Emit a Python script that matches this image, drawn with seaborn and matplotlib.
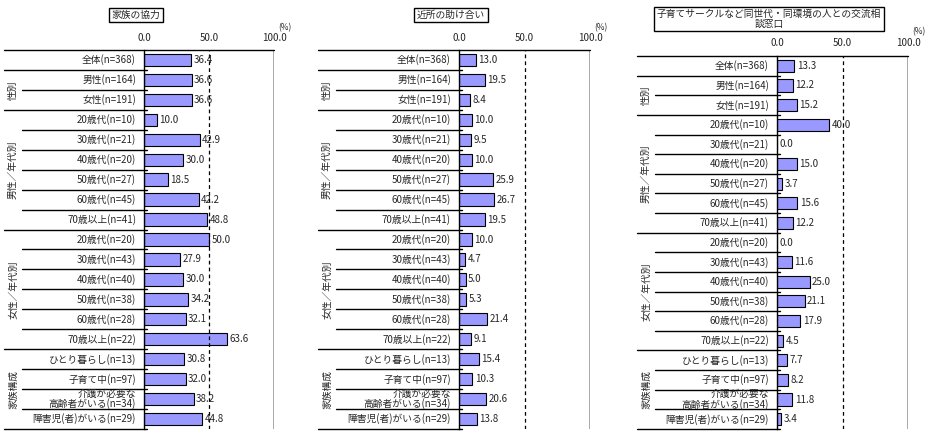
import matplotlib
matplotlib.use("Agg")
import matplotlib.pyplot as plt
from matplotlib.lines import Line2D
import seaborn as sns
import pandas as pd

categories = ["全体(n=368)", "男性(n=164)", "女性(n=191)",
              "20歳代(n=10)", "30歳代(n=21)", "40歳代(n=20)", "50歳代(n=27)", "60歳代(n=45)", "70歳以上(n=41)",
              "20歳代(n=20)", "30歳代(n=43)", "40歳代(n=40)", "50歳代(n=38)", "60歳代(n=28)", "70歳以上(n=22)",
              "ひとり暮らし(n=13)", "子育て中(n=97)", "介護が必要な\n高齢者がいる(n=34)", "障害児(者)がいる(n=29)"]
groups = [("性別", 1, 2), ("男性／年代別", 3, 8), ("女性／年代別", 9, 14), ("家族構成", 15, 18)]
titles = ["家族の協力", "近所の助け合い", "子育てサークルなど同世代・同環境の人との交流相\n談窓口"]
family = [36.4, 36.6, 36.6, 10.0, 42.9, 30.0, 18.5, 42.2, 48.8, 50.0, 27.9, 30.0, 34.2, 32.1, 63.6, 30.8, 32.0, 38.2, 44.8]
neighbor = [13.0, 19.5, 8.4, 10.0, 9.5, 10.0, 25.9, 26.7, 19.5, 10.0, 4.7, 5.0, 5.3, 21.4, 9.1, 15.4, 10.3, 20.6, 13.8]
circle = [13.3, 12.2, 15.2, 40.0, 0.0, 15.0, 3.7, 15.6, 12.2, 0.0, 11.6, 25.0, 21.1, 17.9, 4.5, 7.7, 8.2, 11.8, 3.4]
tick_vals = [0, 50, 100]
tick_labels = ["0.0", "50.0", "100.0"]

sns.set_theme(style="white")
plt.rcParams['font.family'] = ['Noto Sans CJK JP', 'DejaVu Sans']

W, H = 926, 438
fig = plt.figure(figsize=(9.26, 4.38), dpi=100)

def fx(x):
    return x / W

def fy(y):
    return 1 - y / H

panels = [
    dict(data=family, left=4, x0=144, x1=274, top=50, bottom=429, ticky=38, pcty=28, title_xy=(136, 15)),
    dict(data=neighbor, left=318, x0=459, x1=590, top=50, bottom=429, ticky=38, pcty=28, title_xy=(451, 15)),
    dict(data=circle, left=637, x0=777, x1=908, top=56, bottom=429, ticky=43, pcty=32, title_xy=(769, 19)),
]
n = len(categories)
fs = 7

for i, p in enumerate(panels):
    ax = fig.add_axes([fx(p["x0"]), fy(p["bottom"]), fx(p["x1"] - p["x0"]), (p["bottom"] - p["top"]) / H])
    df = pd.DataFrame({"row": list(range(n)), "value": p["data"]})
    sns.barplot(data=df, x="value", y="row", orient="h", color="#9999FF", saturation=1,
                edgecolor="black", linewidth=0.8, width=0.62, ax=ax)
    ax.set_xlim(0, 100)
    ax.set_ylim(n - 0.5, -0.5)
    ax.set_xticks([]); ax.set_yticks([])
    ax.set_xlabel(""); ax.set_ylabel("")
    for s in ["top", "bottom", "right"]:
        ax.spines[s].set_visible(False)
    ax.spines["left"].set_color("black")
    ax.spines["left"].set_linewidth(1)
    ax.axvline(100, color="#999999", lw=1.2)
    ax.axvline(50, color="black", lw=0.9, ls=(0, (3, 2.5)))
    ax.set_facecolor("none")
    for r, v in enumerate(p["data"]):
        ax.text(v + 1.8, r, f"{v:.1f}", va="center", ha="left", fontsize=fs)
    sp = (p["bottom"] - p["top"]) / n
    for r, c in enumerate(categories):
        yc = p["top"] + (r + 0.5) * sp
        fig.text(fx(p["x0"] - 8), fy(yc), c, ha="right", va="center", fontsize=fs,
                 multialignment="right", linespacing=0.95)
    gstart = {0, 2, 8, 14}
    for r in range(n):
        yb = p["top"] + (r + 1) * sp
        xs = p["left"] if (r in gstart or r == n - 1) else p["left"] + 18
        fig.add_artist(Line2D([fx(xs), fx(p["x0"] + 3)], [fy(yb), fy(yb)], color="black", lw=1))
    fig.add_artist(Line2D([fx(p["left"]), fx(p["x1"])], [fy(p["top"]), fy(p["top"])], color="black", lw=1))
    for g, a, b in groups:
        yc = p["top"] + ((a + b) / 2 + 0.5) * sp
        fig.text(fx(p["left"] + 9), fy(yc), g, rotation=90, ha="center", va="center", fontsize=fs)
    for tv, tl in zip(tick_vals, tick_labels):
        xx = p["x0"] + (p["x1"] - p["x0"]) * tv / 100
        fig.text(fx(xx), fy(p["ticky"]), tl, ha="center", va="center", fontsize=fs)
    fig.text(fx(p["x1"] + 11), fy(p["pcty"]), "(%)", ha="center", va="center", fontsize=6)
    tx, ty = p["title_xy"]
    fig.text(fx(tx), fy(ty), titles[i], ha="center", va="center", fontsize=fs,
             multialignment="center", linespacing=1.0,
             bbox=dict(boxstyle="square,pad=0.25", facecolor="white", edgecolor="black", lw=1))

fig.savefig("out.png", dpi=100)
